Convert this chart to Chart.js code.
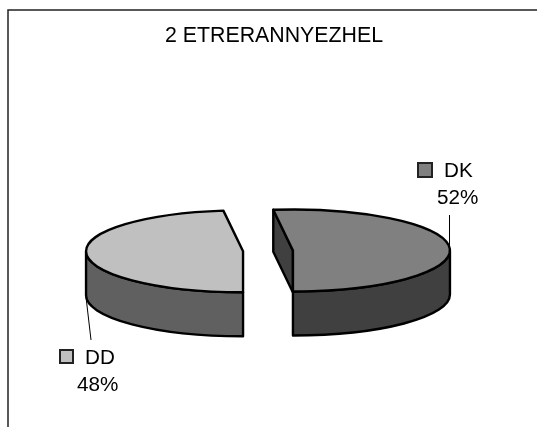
<!DOCTYPE html>
<html>
<head>
<meta charset="utf-8">
<style>html,body{margin:0;padding:0;background:#fff}canvas{display:block}</style>
<script src="https://cdn.jsdelivr.net/npm/chart.js@4"></script>
</head>
<body>
<canvas id="c" width="537" height="427"></canvas>
<script>
const categories = ['DK', 'DD'];
const seriesValues = [52, 48];
const topColors = ['#808080', '#c0c0c0'];
const wallColors = ['#404040', '#606060'];
const chartTitle = '2 ETRERANNYEZHEL';

const squash = 41 / 157;
const depth = 44;
const innerDepth = 42;
const explode = 25;
const pieShift = -6;
const FONT_FAMILY = '"Liberation Sans", Arial, sans-serif';
const FONT_SIZE = 20.67;
const TITLE_SIZE = 21.33;
const labelLayout = [
  { box: [418, 163, 14, 14], name: [444, 177], pct: [437, 204], leader: [[449.5, 250], [449.5, 215]] },
  { box: [60, 350, 13, 13], name: [85, 364], pct: [77, 391], leader: [[86, 297], [91, 340]] }
];

function geom(chart, i) {
  const a = chart.getDatasetMeta(0).data[i];
  const p = a.getProps(['x', 'y', 'startAngle', 'endAngle', 'outerRadius'], true);
  const mid = (p.startAngle + p.endAngle) / 2;
  const dx = Math.cos(mid) * explode + pieShift;
  const dy = Math.sin(mid) * explode * squash;
  return {
    el: a,
    dx, dy,
    cx: p.x + dx,
    cy: p.y + dy,
    y0: p.y,
    r: p.outerRadius, s: p.startAngle, e: p.endAngle
  };
}

const pie3d = {
  id: 'pie3d',
  beforeDraw(chart) {
    const c = chart.ctx;
    c.save();
    c.strokeStyle = '#222';
    c.lineWidth = 1.5;
    c.beginPath();
    c.moveTo(8, 427);
    c.lineTo(8, 10);
    c.lineTo(537, 10);
    c.stroke();
    c.restore();
  },
  beforeDatasetDraw() {
    return false; // each slice is drawn below with its own explode transform
  },
  afterDatasetsDraw(chart) {
    const c = chart.ctx;
    c.save();
    c.lineWidth = 2.4;
    c.strokeStyle = '#000';
    c.lineJoin = 'round';
    categories.forEach((_, i) => {
      const g = geom(chart, i);
      const ry = g.r * squash;
      c.fillStyle = wallColors[i];
      if (i === 0) {
        const sx = g.cx + Math.cos(g.s) * g.r, sy = g.cy + Math.sin(g.s) * ry;
        c.beginPath();
        c.moveTo(sx, sy);
        c.lineTo(g.cx, g.cy);
        c.lineTo(g.cx, g.cy + innerDepth);
        c.lineTo(sx, sy + innerDepth);
        c.closePath();
        c.fill();
        c.stroke();
      }
      const a0 = Math.max(g.s, 0), a1 = Math.min(g.e, Math.PI);
      c.beginPath();
      c.ellipse(g.cx, g.cy, g.r, ry, 0, a0, a1, false);
      c.ellipse(g.cx, g.cy + depth, g.r, ry, 0, a1, a0, true);
      c.closePath();
      c.fill();
      c.stroke();

      // top face: the library's own arc element, through a squashed transform
      c.save();
      c.translate(g.dx, g.y0 + g.dy);
      c.scale(1, squash);
      c.translate(0, -g.y0);
      g.el.draw(c);
      c.restore();

      // outline with an even pen width
      c.beginPath();
      c.moveTo(g.cx, g.cy);
      c.ellipse(g.cx, g.cy, g.r, ry, 0, g.s, g.e, false);
      c.closePath();
      c.stroke();
    });
    c.restore();

    const total = seriesValues.reduce((x, y) => x + y, 0);
    c.save();
    categories.forEach((name, i) => {
      const l = labelLayout[i];
      c.strokeStyle = '#000';
      c.lineWidth = 1;
      c.beginPath();
      c.moveTo(l.leader[0][0], l.leader[0][1]);
      c.lineTo(l.leader[1][0], l.leader[1][1]);
      c.stroke();
      c.fillStyle = topColors[i];
      c.strokeStyle = '#222';
      c.lineWidth = 2;
      c.fillRect(l.box[0], l.box[1], l.box[2], l.box[3]);
      c.strokeRect(l.box[0], l.box[1], l.box[2], l.box[3]);
      c.fillStyle = '#000';
      c.font = FONT_SIZE + 'px ' + FONT_FAMILY;
      c.textAlign = 'left';
      c.textBaseline = 'alphabetic';
      c.fillText(name, l.name[0], l.name[1]);
      c.fillText(Math.round(seriesValues[i] / total * 100) + '%', l.pct[0], l.pct[1]);
    });
    c.restore();
  }
};

new Chart(document.getElementById('c'), {
  type: 'pie',
  data: {
    labels: categories,
    datasets: [{
      data: seriesValues,
      backgroundColor: topColors,
      borderWidth: 0
    }]
  },
  options: {
    responsive: false,
    animation: false,
    events: [],
    radius: 157,
    rotation: -7.2,
    layout: { padding: { left: 11 } },
    plugins: {
      legend: { display: false },
      tooltip: { enabled: false },
      title: {
        display: true,
        text: chartTitle,
        color: '#000',
        font: { family: FONT_FAMILY, size: TITLE_SIZE, weight: 'normal' },
        padding: { top: 23.5, bottom: 25.7 }
      }
    }
  },
  plugins: [pie3d]
});
</script>
</body>
</html>
